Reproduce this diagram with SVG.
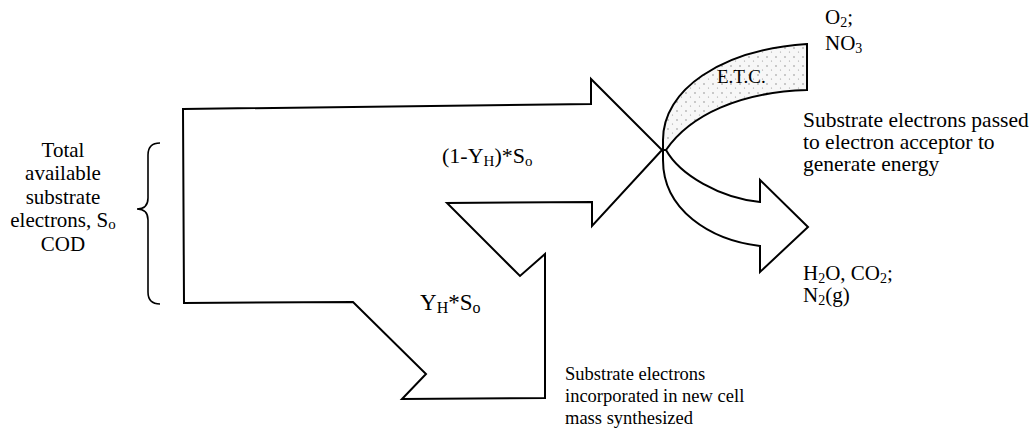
<svg xmlns="http://www.w3.org/2000/svg" width="1036" height="431" viewBox="0 0 1036 431">
<defs>
<style>
.ln{fill:#fff;stroke:#000;stroke-width:2;stroke-linejoin:miter}
.t{font-family:"Liberation Serif","Times New Roman",serif;fill:#000}
</style>
<pattern id="stip" width="9" height="9" patternUnits="userSpaceOnUse">
<rect width="9" height="9" fill="#f7f7f7"/>
<circle cx="2" cy="3" r="0.7" fill="#777"/>
<circle cx="6.5" cy="7" r="0.6" fill="#999"/>
</pattern>
</defs>
<rect width="1036" height="431" fill="#fff"/>
<g id="brace">
<path d="M160,143 Q148,143 148,155 L148,198 Q148,209 137,209 Q148,209 148,220 L148,292 Q148,304 160,304" fill="none" stroke="#000" stroke-width="1.6"/>
<text class="t" font-size="21" text-anchor="middle"><tspan x="63" y="157">Total</tspan><tspan x="63" y="180">available</tspan><tspan x="63" y="204">substrate</tspan><tspan x="63" y="227">electrons, S<tspan font-size="15" dy="2">o</tspan></tspan><tspan x="63" y="251">COD</tspan></text>
</g>
<g id="substrate-flow">
<polygon class="ln" points="183,109 591,104 591,79 662,150 592,226 592,202 447,203 520,276 545,254 545,398 402,399 426,374 353,302 184,303"/>
<text class="t" font-size="22" x="442" y="163">(1-Y<tspan font-size="15" dy="3">H</tspan><tspan dy="-3">)*S</tspan><tspan font-size="15" dy="3">o</tspan></text>
<text class="t" font-size="23" x="420" y="310">Y<tspan font-size="16" dy="3">H</tspan><tspan dy="-3">*S</tspan><tspan font-size="16" dy="3">o</tspan></text>
</g>
<g id="etc-arrow">
<path class="ln" d="M666,150 C680,175 720,198 760,202 L760,180 L808,227 L760,272 L760,246 C710,240 663,210 663,160 L663,150 Z"/>
<path d="M807,44 L807,90 C740,92 690,115 666,150 L663,150 L663,140 C663,90 720,50 807,44 Z" fill="url(#stip)" stroke="#000" stroke-width="2"/>
<text class="t" font-size="19" x="717" y="83">E.T.C.</text>
</g>
<g id="labels">
<text class="t" font-size="21" x="825" y="24">O<tspan font-size="14" dy="3">2</tspan><tspan dy="-3">;</tspan></text>
<text class="t" font-size="21" x="825" y="50">NO<tspan font-size="14" dy="3">3</tspan></text>
<text class="t" font-size="21.5"><tspan x="803" y="127">Substrate electrons passed</tspan><tspan x="803" y="149">to electron acceptor to</tspan><tspan x="803" y="171">generate energy</tspan></text>
<text class="t" font-size="21" x="803" y="280">H<tspan font-size="14" dy="3">2</tspan><tspan dy="-3">O, CO</tspan><tspan font-size="14" dy="3">2</tspan><tspan dy="-3">;</tspan></text>
<text class="t" font-size="21" x="803" y="302">N<tspan font-size="14" dy="3">2</tspan><tspan dy="-3">(g)</tspan></text>
<text class="t" font-size="18.5"><tspan x="565" y="380">Substrate electrons</tspan><tspan x="565" y="402">incorporated in new cell</tspan><tspan x="565" y="424">mass synthesized</tspan></text>
</g>
</svg>
